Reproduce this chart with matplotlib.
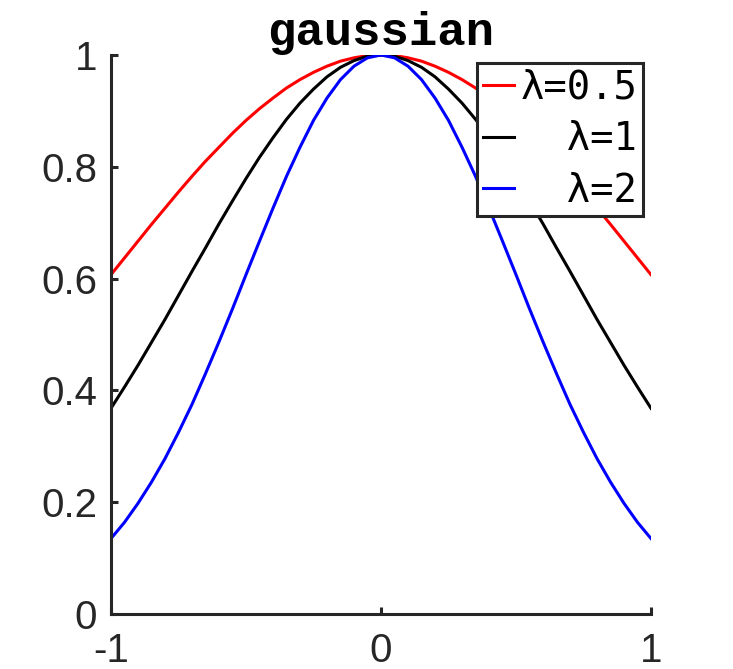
import numpy as np
import matplotlib
matplotlib.use("Agg")
import matplotlib.pyplot as plt

# x samples from 0 to 1 (curves are symmetric about x=0)
x_half = [0.00, 0.05, 0.10, 0.15, 0.20, 0.25, 0.30, 0.35, 0.40, 0.45, 0.50,
          0.55, 0.60, 0.65, 0.70, 0.75, 0.80, 0.85, 0.90, 0.95, 1.00]
y_lam05 = [1.000, 0.999, 0.995, 0.989, 0.980, 0.969, 0.956, 0.941, 0.923, 0.904, 0.883,
           0.860, 0.835, 0.810, 0.783, 0.755, 0.726, 0.697, 0.667, 0.637, 0.607]
y_lam1 = [1.000, 0.998, 0.990, 0.978, 0.961, 0.939, 0.914, 0.885, 0.852, 0.817, 0.779,
          0.739, 0.698, 0.655, 0.613, 0.570, 0.527, 0.486, 0.445, 0.406, 0.368]
y_lam2 = [1.000, 0.995, 0.980, 0.956, 0.923, 0.883, 0.835, 0.783, 0.726, 0.667, 0.607,
          0.546, 0.487, 0.430, 0.375, 0.325, 0.278, 0.236, 0.198, 0.164, 0.135]
labels = ["λ=0.5", "  λ=1", "  λ=2"]
colors = ["#ff0000", "#000000", "#0000ff"]
xticks = [-1, 0, 1]
yticks = [0, 0.2, 0.4, 0.6, 0.8, 1]
ytick_labels = ["0", "0.2", "0.4", "0.6", "0.8", "1"]

def mirror(xs, ys):
    xs = np.asarray(xs); ys = np.asarray(ys)
    return np.concatenate([-xs[:0:-1], xs]), np.concatenate([ys[:0:-1], ys])

axc = "#262626"
fig = plt.figure(figsize=(7.33, 6.69), dpi=100)
ax = fig.add_axes([111/733, 55/669, 540/733, 559/669])

for ys, lab, c in zip([y_lam05, y_lam1, y_lam2], labels, colors):
    xx, yy = mirror(x_half, ys)
    ax.plot(xx, yy, color=c, lw=2.2, label=lab)

ax.set_xlim(-1, 1)
ax.set_ylim(0, 1)
ax.set_xticks(xticks)
ax.set_xticklabels([str(t) for t in xticks])
ax.set_yticks(yticks)
ax.set_yticklabels(ytick_labels)
for s in ["top", "right"]:
    ax.spines[s].set_visible(False)
for s in ["left", "bottom"]:
    ax.spines[s].set_color(axc)
    ax.spines[s].set_linewidth(2.2)
ax.tick_params(direction="in", length=5, width=2.2, color=axc, labelcolor=axc,
               labelsize=29)
ax.tick_params(axis="x", pad=13)
ax.tick_params(axis="y", pad=10)
for t in ax.get_xticklabels() + ax.get_yticklabels():
    t.set_fontfamily("Liberation Sans")

ax.set_title("gaussian", fontfamily="Liberation Mono", fontweight="bold",
             fontsize=34, pad=4)

leg = ax.legend(loc="upper right", bbox_to_anchor=(0.985, 0.986),
                prop={"family": "DejaVu Sans Mono", "size": 28},
                frameon=True, fancybox=False, handlelength=0.8,
                handletextpad=0.15, labelspacing=0.35, borderpad=0.15,
                borderaxespad=0)
leg.get_frame().set_edgecolor(axc)
leg.get_frame().set_linewidth(2.2)
leg.get_frame().set_alpha(1)

fig.savefig("out.png", dpi=100)
